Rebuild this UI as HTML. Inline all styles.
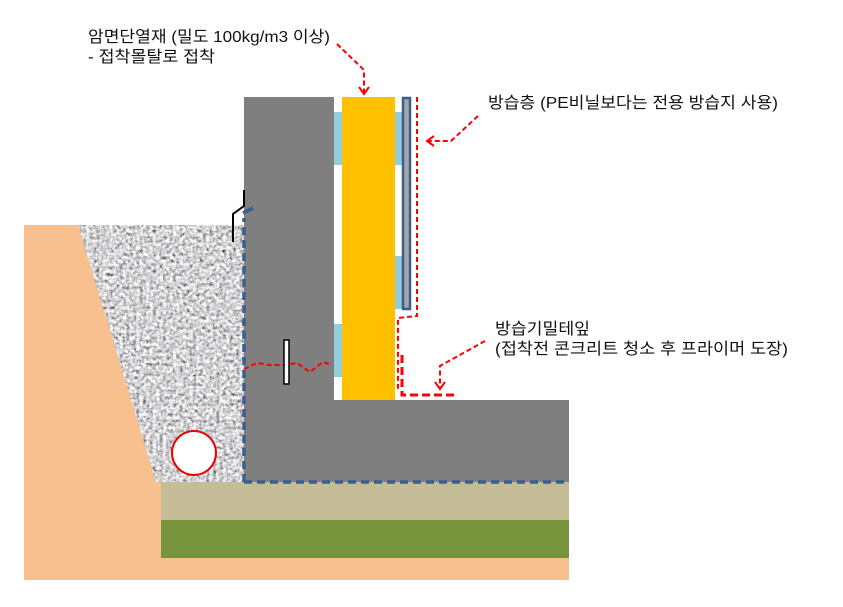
<!DOCTYPE html>
<html><head><meta charset="utf-8"><style>
html,body{margin:0;padding:0;background:#fff;width:843px;height:607px;overflow:hidden}
svg{display:block}
text{font-family:"Liberation Sans","Noto Sans CJK KR","NanumGothic",sans-serif;font-size:16px;fill:#111}
</style></head><body>
<svg width="843" height="607" viewBox="0 0 843 607" xmlns="http://www.w3.org/2000/svg">
<defs>
<filter id="grav" x="0" y="0" width="100%" height="100%">
<feTurbulence type="fractalNoise" baseFrequency="0.3" numOctaves="3" seed="3" result="n"/>
<feColorMatrix in="n" type="matrix" values="1.1 1.1 0 0 -0.45  1.1 1.1 0 0 -0.45  1.1 1.1 0 0 -0.43  0 0 0 0 1" result="c"/>
<feComposite in="c" in2="SourceGraphic" operator="in"/>
</filter>
</defs>
<rect x="24" y="225" width="220" height="355" fill="#f9c08f"/>
<rect x="24" y="482" width="545" height="98" fill="#f9c08f"/>
<polygon points="78,225 244,225 244,482 156,482" fill="#a8a9ac"/>
<polygon points="78,225 244,225 244,482 156,482" fill="#fff" filter="url(#grav)"/>
<rect x="161" y="482" width="408" height="38" fill="#c4bd97"/>
<rect x="161" y="520" width="408" height="38" fill="#77933c"/>
<rect x="244" y="97" width="90" height="303" fill="#7f7f7f"/>
<rect x="244" y="400" width="325" height="82" fill="#7f7f7f"/>
<rect x="334" y="112" width="8" height="53" fill="#92cddc"/>
<rect x="334" y="324" width="8" height="53" fill="#92cddc"/>
<rect x="395" y="112" width="8" height="53" fill="#92cddc"/>
<rect x="395" y="256" width="8" height="53" fill="#92cddc"/>
<rect x="342" y="97" width="53" height="303" fill="#ffc000"/>
<rect x="403" y="98" width="7" height="211" fill="#a6a6a6" stroke="#3a5f8f" stroke-width="2.5"/>
<path d="M244,482 H569 M244,482 V218" stroke="#3a5f8f" stroke-width="3.5" stroke-dasharray="8,5" fill="none"/>
<path d="M243,213 L253,208" stroke="#3a5f8f" stroke-width="3.5"/>
<path d="M244,190 V206 L233,214 V242" stroke="#000" stroke-width="2" fill="none"/>
<circle cx="194" cy="453" r="22" fill="#fff" stroke="#e00" stroke-width="2"/>
<path d="M244,369 L257,363 L270,365 L284,365 L297,363 L310,372 L323,362 L332,365" stroke="#f00" stroke-width="2" stroke-dasharray="5,3" fill="none"/>
<rect x="284" y="340" width="5" height="44" fill="#fff" stroke="#000" stroke-width="1.5"/>
<path d="M417,97 V316 L398,318 V392" stroke="#f00" stroke-width="2" stroke-dasharray="5,3" fill="none"/>
<path d="M402,355 V395 H455" stroke="#f00" stroke-width="3" stroke-dasharray="8,4" fill="none"/>
<path d="M337,44 L364,70 V92" stroke="#f00" stroke-width="2" stroke-dasharray="5,3" fill="none"/>
<path d="M359,87 L364,94 L369,87" stroke="#f00" stroke-width="2" fill="none"/>
<path d="M478,116 L451,141 H428" stroke="#f00" stroke-width="2" stroke-dasharray="5,3" fill="none"/>
<path d="M434,136 L427,141 L434,146" stroke="#f00" stroke-width="2" fill="none"/>
<path d="M485,341 L440,366 V388" stroke="#f00" stroke-width="2" stroke-dasharray="5,3" fill="none"/>
<path d="M435,382 L440,389 L445,382" stroke="#f00" stroke-width="2" fill="none"/>
<text x="88" y="42" textLength="242" lengthAdjust="spacingAndGlyphs">암면단열재 (밀도 100kg/m3 이상)</text>
<text x="88" y="62" textLength="127" lengthAdjust="spacingAndGlyphs">- 접착몰탈로 접착</text>
<text x="488" y="108" textLength="290" lengthAdjust="spacingAndGlyphs">방습층 (PE비닐보다는 전용 방습지 사용)</text>
<text x="495" y="334" textLength="95" lengthAdjust="spacingAndGlyphs">방습기밀테잎</text>
<text x="495" y="354" textLength="293" lengthAdjust="spacingAndGlyphs">(접착전 콘크리트 청소 후 프라이머 도장)</text>
</svg>
</body></html>
